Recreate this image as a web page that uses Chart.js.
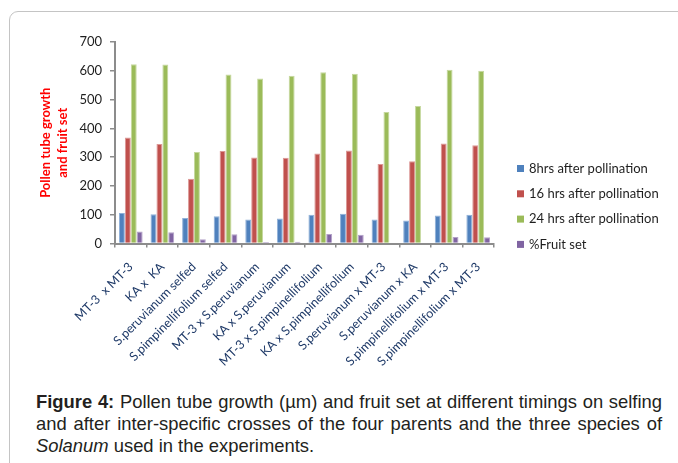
<!DOCTYPE html>
<html>
<head>
<meta charset="utf-8">
<script src="https://cdn.jsdelivr.net/npm/chart.js@4.4.1/dist/chart.umd.min.js"></script>
<style>
  html, body { margin: 0; padding: 0; background: #fff; width: 678px; height: 463px; overflow: hidden; }
  #frame { position: absolute; left: 9px; top: 11px; width: 720px; height: 520px;
           border: 1.5px solid #c4c4c4; border-radius: 9px; box-sizing: border-box; }
  #wrap { position: absolute; left: 0; top: 0; width: 678px; height: 380px; }
  #caption { position: absolute; left: 36px; top: 391px; width: 626px;
             font-family: "Liberation Sans", Arial, sans-serif; font-size: 18.4px; line-height: 21.8px; color: #231f20; }
  #caption .full { text-align: justify; text-align-last: justify; white-space: nowrap; }
  #caption b { font-weight: bold; }
</style>
</head>
<body>
<div id="frame"></div>
<div id="wrap"><canvas id="chart" width="678" height="380"></canvas></div>
<div id="caption">
  <div class="full"><b>Figure 4:</b> Pollen tube growth (µm) and fruit set at different timings on selfing</div>
  <div class="full">and after inter-specific crosses of the four parents and the three species of</div>
  <div><i>Solanum</i> used in the experiments.</div>
</div>
<script>
// Crosses and selfings
const categories = [
  'MT-3  x MT-3', 'KA x  KA', 'S.peruvianum selfed', 'S.pimpinellifolium selfed',
  'MT-3 x S.peruvianum', 'KA x S.peruvianum', 'MT-3 x S.pimpinellifolium', 'KA x S.pimpinellifolium',
  'S.peruvianum x MT-3', 'S.peruvianum x KA', 'S.pimpinellifolium x MT-3', 'S.pimpinellifolium x MT-3'
];
const seriesNames = ['8hrs after pollination', '16 hrs after pollination', '24 hrs after pollination', '%Fruit set'];
const growth8h  = [106, 102,  89,  95,  83,  87, 100, 103,  83,  80,  97, 100];
const growth16h = [368, 346, 225, 321, 299, 298, 313, 323, 276, 286, 347, 341];
const growth24h = [623, 622, 318, 587, 573, 583, 595, 590, 457, 478, 604, 600];
const fruitSet  = [ 42,  39,  15,  32,   5,   6,  33,  30,   0,   0,  23,  22];
const yTicks = [0, 100, 200, 300, 400, 500, 600, 700];

const fills   = ['#4f81bd', '#c0504d', '#9bbb59', '#8064a2'];
const edges   = ['#8fb0d8', '#dc9896', '#c5d89e', '#b3a2c8'];
const values  = [growth8h, growth16h, growth24h, fruitSet];

const FONT = 'Lato, "Open Sans", sans-serif';

// Legend drawn at the right of the plot, bottom-aligned with the axis
const sideLegend = {
  id: 'sideLegend',
  afterDraw(chart) {
    const ctx = chart.ctx;
    ctx.save();
    ctx.font = '13px ' + FONT;
    ctx.textBaseline = 'middle';
    ctx.textAlign = 'left';
    chart.data.datasets.forEach((ds, i) => {
      const y = 168.5 + i * 25.3;
      ctx.fillStyle = ds.backgroundColor;
      ctx.fillRect(517, y - 3.5, 7, 7);
      ctx.fillStyle = '#1e1e1e';
      ctx.fillText(ds.label, 529, y);
    });
    ctx.restore();
  }
};

new Chart(document.getElementById('chart'), {
  type: 'bar',
  data: {
    labels: categories,
    datasets: values.map((v, i) => ({
      label: seriesNames[i],
      data: v,
      backgroundColor: fills[i],
      borderColor: edges[i],
      borderWidth: 1,
      barPercentage: 1.0,
      categoryPercentage: 0.75
    }))
  },
  options: {
    responsive: false,
    animation: false,
    events: [],
    layout: { padding: { left: 0, top: 42, right: 184, bottom: 0 } },
    plugins: { legend: { display: false }, tooltip: { enabled: false } },
    scales: {
      x: {
        grid: { display: true, drawOnChartArea: false, drawTicks: true, tickLength: 4, color: '#8c8c8c', lineWidth: 1.5, offset: true },
        border: { display: true, color: '#8c8c8c', width: 2 },
        ticks: { autoSkip: false, minRotation: 45, maxRotation: 45, padding: 12,
                 color: '#1f3a68', font: { family: FONT, size: 12.5 } },
        afterFit(scale) { scale.height = 380 - 243.5; }
      },
      y: {
        min: 0, max: 700,
        afterBuildTicks(scale) { scale.ticks = yTicks.map(v => ({ value: v })); },
        grid: { display: true, drawOnChartArea: false, drawTicks: true, tickLength: 5, color: '#8c8c8c', lineWidth: 1.5 },
        border: { display: true, color: '#8c8c8c', width: 2 },
        ticks: { padding: 8, color: '#1e1e1e', font: { family: FONT, size: 13 } },
        title: {
          display: true,
          text: ['Pollen tube growth', 'and fruit set'],
          color: '#ff0000',
          font: { family: FONT, size: 13, weight: 'bold', lineHeight: '17px' },
          padding: { top: 37.5, bottom: 0 }
        },
        afterFit(scale) { scale.width = 115; }
      }
    }
  },
  plugins: [sideLegend]
});
</script>
</body>
</html>
